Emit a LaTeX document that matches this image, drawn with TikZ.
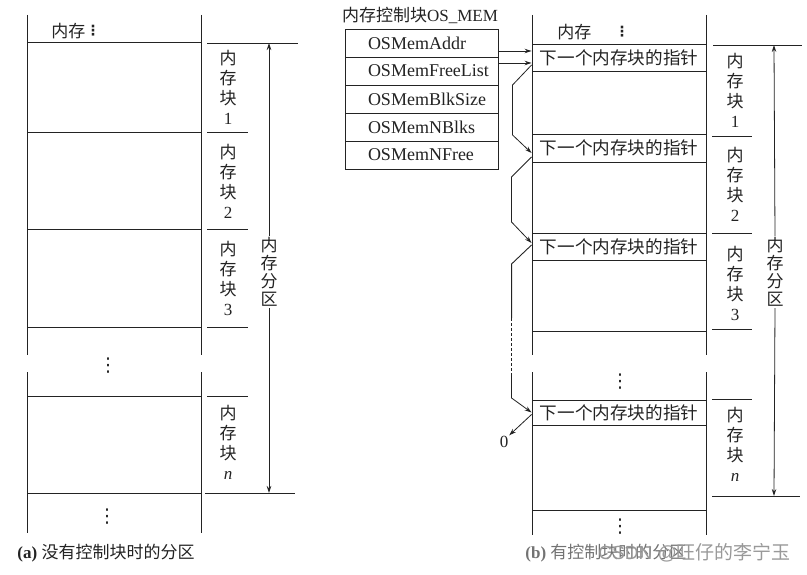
\documentclass[tikz,border=0pt]{standalone}
\usepackage{fontspec}
\setmainfont{Liberation Serif}
\newfontfamily\cjk{Noto Sans CJK SC}
\newfontfamily\dejavu{DejaVu Sans}
\newfontfamily\wmsans{Liberation Sans}
\usetikzlibrary{arrows.meta,calc}
\definecolor{ink}{RGB}{35,35,35}
\newcommand\fsa{\fontsize{17}{20}\selectfont}
\newcommand\fsb{\fontsize{17}{18}\selectfont}
\newcommand\fsl{\fontsize{18}{20}\selectfont}
\newcommand\fsp{\fontsize{17.6}{20}\selectfont}
\begin{document}
\begin{tikzpicture}[x=1pt,y=-1pt,color=ink,line width=0.9pt,
  arr/.style={-{Stealth[length=7pt,width=4.5pt]},line width=0.8pt},
  vlab/.style={font=\cjk\fsa,align=center,inner sep=0pt},
  plab/.style={font=\cjk\fsb,align=center,inner xsep=0pt,inner ysep=1pt,fill=white},
  field/.style={draw,minimum height=28pt,inner xsep=23pt,inner ysep=0pt,text width=107pt,align=left,font=\fsl},
  ptr/.style={draw,minimum width=174pt,inner sep=0pt,font=\cjk\fsp},
  dots/.style={font=\dejavu\fontsize{19}{20}\selectfont,inner sep=0pt},
  sdots/.style={font=\dejavu\bfseries\fontsize{14}{15}\selectfont,inner sep=0pt}]
\useasboundingbox[fill=white] (0,0) rectangle (807,575);

% ---------------- (a) ----------------
\draw (27,15) -- (27,355) (27,372) -- (27,533);
\draw (201,15) -- (201,355) (201,372) -- (201,533);
\foreach \y in {42,132,229,327,396,493} \draw (27,\y) -- (201,\y);
\draw (207,43) -- (298,43);
\foreach \y in {132,229,327,396} \draw (207,\y) -- (248,\y);
\draw (205,493) -- (295,493);
\node[font=\cjk\fsa,anchor=west,inner sep=0pt] (atopl) at (51,31) {内存};
\node[sdots] (atopd) at (93,31) {⋮};
\node[dots] (amid) at (108,366) {⋮};
\node[dots] (abot) at (107,517) {⋮};
\node[vlab] (ab1) at (228,87) {内\\存\\块\\{\rmfamily 1}};
\node[vlab] (ab2) at (228,181) {内\\存\\块\\{\rmfamily 2}};
\node[vlab] (ab3) at (228,278) {内\\存\\块\\{\rmfamily 3}};
\node[vlab] (abn) at (228,442) {内\\存\\块\\{\rmfamily\itshape n}};
\coordinate (aat) at (269,43);
\coordinate (aab) at (269,493);
\node[plab] (apart) at (269,272) {内\\存\\分\\区};
\draw[arr] (apart.north) -- (aat);
\draw[arr] (apart.south) -- (aab);
\node[anchor=west,inner sep=0pt,font=\fsa] (capa) at (17,553) {\textbf{(a)} {\cjk 没有控制块时的分区}};

% ---------------- (b) ----------------
\node[font=\fsa,inner sep=0pt] (title) at (420,15) {{\cjk 内存控制块}OS\_MEM};
\node[field] (r1) at (421.5,43) {OSMemAddr};
\node[field] (r2) at (421.5,71) {OSMemFreeList};
\node[field] (r3) at (421.5,99) {OSMemBlkSize};
\node[field] (r4) at (421.5,127) {OSMemNBlks};
\node[field] (r5) at (421.5,155) {OSMemNFree};

\draw (532,15) -- (532,355) (532,372) -- (532,535);
\draw (706,15) -- (706,355) (706,372) -- (706,535);
\draw (532,331) -- (706,331);
\draw (532,510) -- (706,510);
\node[ptr,minimum height=27pt] (p1) at (619,57.5) {下一个内存块的指针};
\node[ptr,minimum height=28pt] (p2) at (619,148) {下一个内存块的指针};
\node[ptr,minimum height=27pt] (p3) at (619,246.5) {下一个内存块的指针};
\node[ptr,minimum height=25pt] (pn) at (619,412.5) {下一个内存块的指针};

\draw (713,45) -- (802,45);
\foreach \y in {136,233,329,399} \draw (712,\y) -- (752,\y);
\draw (712,496) -- (800,496);
\node[font=\cjk\fsa,anchor=west,inner sep=0pt] (btopl) at (557,32) {内存};
\node[sdots] (btopd) at (622,32) {⋮};
\node[dots] (bmid) at (620,382) {⋮};
\node[dots] (bbot) at (620,527) {⋮};
\node[vlab] (bb1) at (735,90) {内\\存\\块\\{\rmfamily 1}};
\node[vlab] (bb2) at (735,184) {内\\存\\块\\{\rmfamily 2}};
\node[vlab] (bb3) at (735,283) {内\\存\\块\\{\rmfamily 3}};
\node[vlab] (bbn) at (735,444) {内\\存\\块\\{\rmfamily\itshape n}};
\coordinate (bat) at (774,45);
\coordinate (bab) at (774,496);
\node[plab] (bpart) at (775,272) {内\\存\\分\\区};
\draw[arr] (bpart.north) -- (bat);
\draw[arr] (bpart.south) -- (bab);

% pointers from the control block
\draw[arr] ([yshift=-8pt]r1.east) -- ([yshift=-8pt]r1.east -| p1.west);
\draw[arr] ([yshift=8pt]r2.east) -- ([yshift=8pt]r2.east -| p1.west);
% free list chain
\draw[arr] ([yshift=-7.5pt]p1.west) -- ++(-19,20) -- ++(0,50) -- ([yshift=-5pt]p2.west);
\draw[arr] ([yshift=-9pt]p2.west) -- ++(-20,20) -- ++(0,45) -- ([yshift=3.5pt]p3.west);
\draw ([yshift=1.5pt]p3.west) -- ++(-20,19) -- ++(0,54) coordinate (d1);
\draw[line width=1.5pt,dash pattern=on 3pt off 2pt] (d1) -- ++(0,55) coordinate (d2);
\draw[arr] (d2) -- ++(0,25) -- (pn.west);
\node[font=\fsa,inner sep=0.5pt] (zero) at (504,442) {0};
\draw[arr] ([yshift=-2pt]pn.west) -- (zero.north east);

\node[anchor=west,inner sep=0pt,font=\fsa,text=black!55] (capb) at (525,553) {\textbf{(b)} {\cjk 有控制块时的分区}};
\node[anchor=west,inner sep=0pt,font=\fontsize{19}{20}\selectfont,text=black!40] (wm) at (598,553) {{\wmsans CSDN @}{\cjk 旺仔的李宁玉}};
\end{tikzpicture}
\end{document}
